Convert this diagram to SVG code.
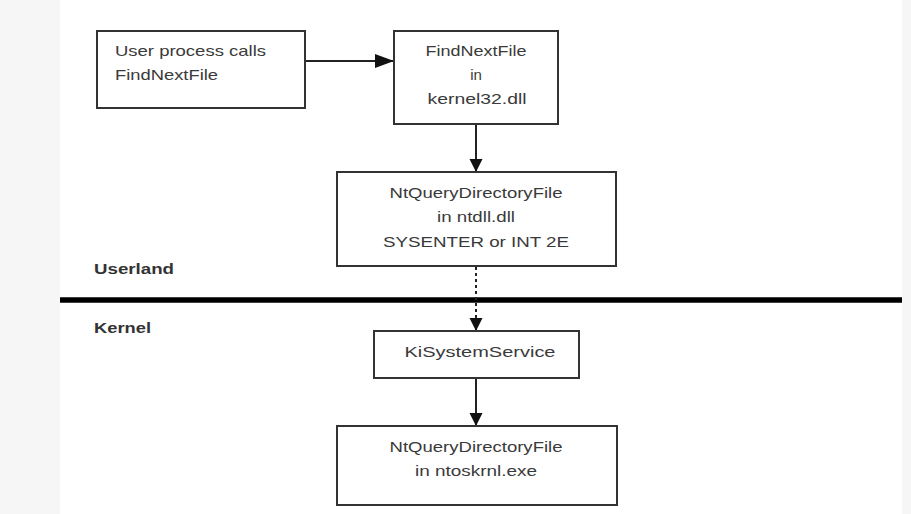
<svg xmlns="http://www.w3.org/2000/svg" width="911" height="514" viewBox="0 0 911 514">
  <style>
    .box { fill: #ffffff; stroke: #333333; stroke-width: 2; }
    .t { font-family: "Liberation Sans", Arial, sans-serif; font-size: 15px; fill: #3a3a3a; }
    .c { text-anchor: middle; }
    .lbl { font-family: "Liberation Sans", Arial, sans-serif; font-size: 15px; font-weight: bold; fill: #333333; }
    .conn { stroke: #222222; stroke-width: 2; fill: none; }
    .dash { stroke-dasharray: 3 3; }
  </style>
  <defs>
    <marker id="ah" markerUnits="userSpaceOnUse" markerWidth="20" markerHeight="16" refX="19" refY="7" orient="auto">
      <polygon points="0,0 19,7 0,14" fill="#111111"/>
    </marker>
    <marker id="ahd" markerUnits="userSpaceOnUse" markerWidth="14" markerHeight="14" refX="13" refY="6.5" orient="auto">
      <polygon points="0,0 13,6.5 0,13" fill="#111111"/>
    </marker>
  </defs>

  <rect x="0" y="0" width="911" height="514" fill="#f6f6f6"/>
  <rect x="60" y="0" width="842" height="514" fill="#ffffff"/>

  <g id="divider">
    <line x1="60" y1="300" x2="902" y2="300" stroke="#000000" stroke-width="5.5"/>
  </g>
  <g id="label-userland">
    <text class="lbl" x="94" y="274" textLength="80" lengthAdjust="spacingAndGlyphs">Userland</text>
  </g>
  <g id="label-kernel">
    <text class="lbl" x="94" y="333" textLength="57" lengthAdjust="spacingAndGlyphs">Kernel</text>
  </g>

  <g id="connectors">
    <line class="conn" x1="305" y1="61" x2="394" y2="61" marker-end="url(#ah)"/>
    <line class="conn" x1="476" y1="124" x2="476" y2="172" marker-end="url(#ahd)"/>
    <line class="conn dash" x1="476" y1="267" x2="476" y2="331" marker-end="url(#ahd)"/>
    <line class="conn" x1="476" y1="378" x2="476" y2="426" marker-end="url(#ahd)"/>
  </g>

  <g id="user-process">
    <rect class="box" x="97" y="31" width="208" height="77"/>
    <text class="t" x="115" y="56" textLength="151" lengthAdjust="spacingAndGlyphs">User process calls</text>
    <text class="t" x="115" y="80" textLength="103" lengthAdjust="spacingAndGlyphs">FindNextFile</text>
  </g>

  <g id="findnextfile-kernel32">
    <rect class="box" x="394" y="31" width="164" height="93"/>
    <text class="t c" x="476" y="56" textLength="101" lengthAdjust="spacingAndGlyphs">FindNextFile</text>
    <text class="t c" x="476" y="80">in</text>
    <text class="t c" x="477" y="104" textLength="99" lengthAdjust="spacingAndGlyphs">kernel32.dll</text>
  </g>

  <g id="ntquery-ntdll">
    <rect class="box" x="337" y="172" width="279" height="94"/>
    <text class="t c" x="476" y="198" textLength="173" lengthAdjust="spacingAndGlyphs">NtQueryDirectoryFile</text>
    <text class="t c" x="476" y="222" textLength="78" lengthAdjust="spacingAndGlyphs">in ntdll.dll</text>
    <text class="t c" x="476" y="247" textLength="186" lengthAdjust="spacingAndGlyphs">SYSENTER or INT 2E</text>
  </g>

  <g id="kisystemservice">
    <rect class="box" x="374" y="331" width="205" height="47"/>
    <text class="t c" x="480" y="357" textLength="151" lengthAdjust="spacingAndGlyphs">KiSystemService</text>
  </g>

  <g id="ntquery-ntoskrnl">
    <rect class="box" x="337" y="426" width="280" height="79"/>
    <text class="t c" x="476" y="452" textLength="173" lengthAdjust="spacingAndGlyphs">NtQueryDirectoryFile</text>
    <text class="t c" x="476" y="476" textLength="122" lengthAdjust="spacingAndGlyphs">in ntoskrnl.exe</text>
  </g>
</svg>
